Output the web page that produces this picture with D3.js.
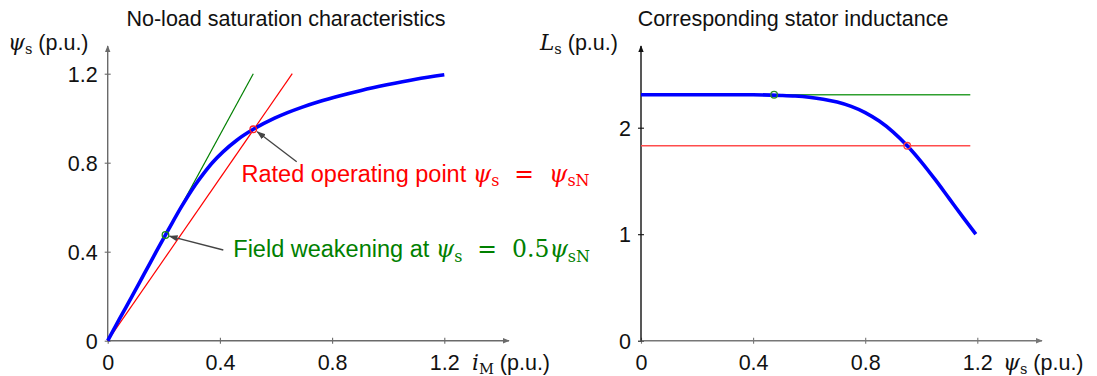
<!DOCTYPE html>
<html><head><meta charset="utf-8">
<script src="https://cdn.jsdelivr.net/npm/d3@7"></script>
<style>body{margin:0;background:#fff} svg{display:block}</style>
</head><body><svg id="c" width="1097" height="376"></svg>
<script>
// ---- data ----
const satCurrent = [0, 0.043, 0.087, 0.130, 0.173, 0.217, 0.262, 0.312, 0.341, 0.373, 0.412, 0.459, 0.519, 0.595, 0.641, 0.694, 0.755, 0.825, 0.904, 0.995, 1.098, 1.2];
const satFlux    = [0, 0.1, 0.2, 0.3, 0.4, 0.5, 0.6, 0.7, 0.75, 0.8, 0.85, 0.9, 0.95, 1.0, 1.025, 1.05, 1.075, 1.1, 1.125, 1.15, 1.175, 1.195];
const indFlux = [0, 0.1, 0.2, 0.3, 0.4, 0.5, 0.55, 0.6, 0.65, 0.7, 0.75, 0.8, 0.85, 0.9, 0.95, 1.0, 1.05, 1.1, 1.15, 1.195];
const indL    = [2.31, 2.31, 2.31, 2.31, 2.309, 2.303, 2.297, 2.286, 2.268, 2.241, 2.2, 2.142, 2.062, 1.959, 1.831, 1.68, 1.512, 1.334, 1.156, 1.0];
const greenLineI = [0, 0.519], greenLinePsi = [0, 1.2];
const redLineI = [0, 0.658], redLinePsi = [0, 1.2];
const levelFlux = [0, 1.175];
const greenLevel = 2.31, redLevel = 1.83;
const ratedPt = {i: 0.519, psi: 0.95, L: 1.83};
const fwPt = {i: 0.206, psi: 0.475, L: 2.31};
const leftTicks = [0, 0.4, 0.8, 1.2];
const rightXTicks = [0, 0.4, 0.8, 1.2];
const rightYTicks = [0, 1, 2];

const svg = d3.select('#c');
const SANS = 'Liberation Sans, Arial, Helvetica, sans-serif';
const SERIF = 'DejaVu Serif, Liberation Serif, serif';

const defs = svg.append('defs');
function arrowMarker(id, color) {
  defs.append('marker').attr('id', id).attr('viewBox', '0 0 10 10')
    .attr('refX', 9).attr('refY', 5).attr('markerWidth', 7).attr('markerHeight', 7)
    .attr('markerUnits', 'userSpaceOnUse').attr('orient', 'auto')
    .append('path').attr('d', 'M0,1 L10,5 L0,9 Z').attr('fill', color);
}
arrowMarker('axL', '#6a6a6a');
arrowMarker('axR', '#111');
arrowMarker('axR2', '#777');
defs.append('marker').attr('id', 'ann').attr('viewBox', '0 0 10 10')
  .attr('refX', 9).attr('refY', 5).attr('markerWidth', 9).attr('markerHeight', 9)
  .attr('markerUnits', 'userSpaceOnUse').attr('orient', 'auto')
  .append('path').attr('d', 'M0,1.5 L10,5 L0,8.5 Z').attr('fill', '#444');

// ---- left scales ----
const xL = d3.scaleLinear().domain([0, 1.2]).range([107.7, 444.3]);
const yL = d3.scaleLinear().domain([0, 1.2]).range([340.7, 73.7]);
// ---- right scales ----
const xR = d3.scaleLinear().domain([0, 1.2]).range([641, 977.3]);
const yR = d3.scaleLinear().domain([0, 2]).range([340.7, 127.7]);

function drawAxes(x, y, xt, yt, xEnd, yEnd, xColor, yColor, xMark, yMark, fmtX, fmtY) {
  const g = svg.append('g');
  const ax = g.append('g').attr('transform', `translate(0,${y(0)})`)
    .call(d3.axisBottom(x).tickValues(xt).tickSize(3).tickSizeOuter(0).tickFormat(fmtX));
  ax.select('.domain').remove();
  ax.selectAll('.tick line').attr('y1', -3).attr('y2', 3).attr('stroke', xColor).attr('stroke-width', 1.1);
  ax.selectAll('.tick text').attr('y', 29.5).attr('dy', 0).attr('font-family', SANS).attr('font-size', 21.5).attr('fill', '#111');
  const ay = g.append('g').attr('transform', `translate(${x(0)},0)`)
    .call(d3.axisLeft(y).tickValues(yt).tickSize(3).tickSizeOuter(0).tickFormat(fmtY));
  ay.select('.domain').remove();
  ay.selectAll('.tick line').attr('x1', -3).attr('x2', 3).attr('stroke', yColor).attr('stroke-width', 1.1);
  ay.selectAll('.tick text').attr('x', -10).attr('dy', '0.36em').attr('font-family', SANS).attr('font-size', 21.5).attr('fill', '#111');
  g.append('line').attr('x1', x(0)).attr('y1', y(0)).attr('x2', xEnd).attr('y2', y(0))
    .attr('stroke', xColor).attr('stroke-width', 1.4).attr('marker-end', `url(#${xMark})`);
  g.append('line').attr('x1', x(0)).attr('y1', y(0)).attr('x2', x(0)).attr('y2', yEnd)
    .attr('stroke', yColor).attr('stroke-width', 1.4).attr('marker-end', `url(#${yMark})`);
  return g;
}
const fmt = d => d === 0 ? '0' : d3.format('.1f')(d);
const fmtR = d => d3.format('d')(d);

// Left chart
drawAxes(xL, yL, leftTicks, leftTicks, 509, 46, '#6a6a6a', '#6a6a6a', 'axL', 'axL', fmt, fmt);
// Right chart
drawAxes(xR, yR, rightXTicks, rightYTicks, 1042, 46, '#777', '#111', 'axR2', 'axR', fmt, fmtR);

// Left: tangent lines
const lineL = d3.line().x(d => xL(d[0])).y(d => yL(d[1]));
svg.append('path').attr('d', lineL(d3.zip(greenLineI, greenLinePsi)))
  .attr('stroke', '#008000').attr('stroke-width', 1.2).attr('fill', 'none');
svg.append('path').attr('d', lineL(d3.zip(redLineI, redLinePsi)))
  .attr('stroke', '#ff0000').attr('stroke-width', 1.2).attr('fill', 'none');
// Left: saturation curve
svg.append('path').attr('d', d3.line().curve(d3.curveMonotoneX).x(d => xL(d[0])).y(d => yL(d[1]))(d3.zip(satCurrent, satFlux)))
  .attr('stroke', '#0000ff').attr('stroke-width', 3.6).attr('fill', 'none').attr('stroke-linecap', 'butt');
// Left markers
svg.append('circle').attr('cx', xL(ratedPt.i)).attr('cy', yL(ratedPt.psi)).attr('r', 3.3)
  .attr('fill', 'none').attr('stroke', '#ff2020').attr('stroke-width', 1.3);
svg.append('circle').attr('cx', xL(fwPt.i)).attr('cy', yL(fwPt.psi)).attr('r', 3.3)
  .attr('fill', 'none').attr('stroke', '#1a8a1a').attr('stroke-width', 1.3);

// Right: levels
const lineR = d3.line().x(d => xR(d[0])).y(d => yR(d[1]));
svg.append('path').attr('d', lineR(levelFlux.map(f => [f, greenLevel])))
  .attr('stroke', '#30a030').attr('stroke-width', 1.5).attr('fill', 'none');
svg.append('path').attr('d', lineR(levelFlux.map(f => [f, redLevel])))
  .attr('stroke', '#ff4c4c').attr('stroke-width', 1.5).attr('fill', 'none');
svg.append('path').attr('d', d3.line().curve(d3.curveMonotoneX).x(d => xR(d[0])).y(d => yR(d[1]))(d3.zip(indFlux, indL)))
  .attr('stroke', '#0000ff').attr('stroke-width', 3.6).attr('fill', 'none');
svg.append('circle').attr('cx', xR(ratedPt.psi)).attr('cy', yR(ratedPt.L)).attr('r', 3.3)
  .attr('fill', 'none').attr('stroke', '#ff4040').attr('stroke-width', 1.3);
svg.append('circle').attr('cx', xR(fwPt.psi)).attr('cy', yR(fwPt.L)).attr('r', 3.3)
  .attr('fill', 'none').attr('stroke', '#2a8a2a').attr('stroke-width', 1.3);

// Annotation arrows
svg.append('line').attr('x1', 296.7).attr('y1', 161.7).attr('x2', xL(ratedPt.i) + 4).attr('y2', yL(ratedPt.psi) + 2.5)
  .attr('stroke', '#444').attr('stroke-width', 1.3).attr('marker-end', 'url(#ann)');
svg.append('line').attr('x1', 223.3).attr('y1', 250).attr('x2', xL(fwPt.i) + 4).attr('y2', yL(fwPt.psi) + 1.2)
  .attr('stroke', '#444').attr('stroke-width', 1.3).attr('marker-end', 'url(#ann)');

// text helper: parts [text, kind]
function mtext(x, y, parts, color, size, anchor) {
  const t = svg.append('text').attr('x', x).attr('y', y).attr('fill', color)
    .attr('font-size', size).attr('text-anchor', anchor || 'start');
  parts.forEach(([s, k]) => {
    const sp = t.append('tspan').text(s);
    if (k === 'sans') sp.attr('font-family', SANS);
    else if (k === 'mi') sp.attr('font-family', SERIF).attr('font-style', 'italic');
    else if (k === 'mr') sp.attr('font-family', SERIF);
    else if (k === 'sub') sp.attr('font-family', SERIF).attr('font-size', size * 0.68).attr('dy', size * 0.2);
    else if (k === 'up') sp.attr('font-family', SERIF).attr('dy', -size * 0.2);
    else if (k === 'upsans') sp.attr('font-family', SANS).attr('dy', -size * 0.2);
  });
  t.attr('xml:space', 'preserve');
  return t;
}

// Titles
svg.append('text').attr('x', 286).attr('y', 26).attr('text-anchor', 'middle')
  .attr('font-family', SANS).attr('font-size', 21.5).attr('fill', '#111').text('No-load saturation characteristics');
svg.append('text').attr('x', 793).attr('y', 26).attr('text-anchor', 'middle')
  .attr('font-family', SANS).attr('font-size', 21.5).attr('fill', '#111').text('Corresponding stator inductance');

// Axis labels
mtext(8, 50, [['ψ', 'mi'], ['s', 'sub'], [' (p.u.)', 'upsans']], '#111', 21.5);
mtext(540, 50, [['L', 'mi'], ['s', 'sub'], [' (p.u.)', 'upsans']], '#111', 21.5);
mtext(472, 370, [['i', 'mi'], ['M', 'sub'], [' (p.u.)', 'upsans']], '#111', 21.5);
mtext(1003, 370, [['ψ', 'mi'], ['s', 'sub'], [' (p.u.)', 'upsans']], '#111', 21.5);

// Annotations
mtext(241.5, 181.7, [['Rated operating point ', 'sans'], ['ψ', 'mi'], ['s', 'sub'], ['  =  ', 'up'], ['ψ', 'mi'], ['sN', 'sub']], '#ff0000', 23.5);
mtext(233.3, 257, [['Field weakening at ', 'sans'], ['ψ', 'mi'], ['s', 'sub'], ['  =  0.5', 'up'], ['ψ', 'mi'], ['sN', 'sub']], '#008000', 23.5);
</script>
</body></html>
